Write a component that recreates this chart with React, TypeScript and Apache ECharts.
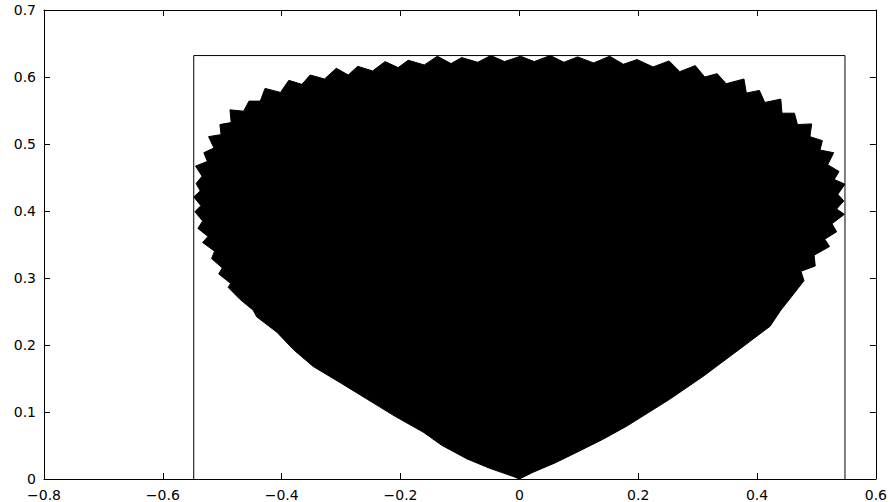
import React, { useEffect, useRef } from "react";
import * as echarts from "echarts";

// Edge of the filled region, anticlockwise from the origin:
// smooth lower flanks, ragged upper rim.
const edgeX = [
  0, -0.011, -0.05, -0.088, -0.13, -0.162, -0.21, -0.256, -0.3, -0.347, -0.38, -0.408,
  -0.442, -0.448, -0.47,
  -0.49, -0.486, -0.506, -0.5, -0.518, -0.513, -0.533, -0.524, -0.541, -0.533,
  -0.546, -0.536, -0.548, -0.537, -0.544, -0.534, -0.545, -0.525, -0.531, -0.514,
  -0.523, -0.502, -0.504, -0.485, -0.487, -0.464, -0.455, -0.436, -0.428, -0.402,
  -0.388, -0.366, -0.352, -0.328, -0.308, -0.288, -0.272, -0.247, -0.226, -0.204, -0.187,
  -0.16, -0.138, -0.115, -0.097, -0.07, -0.048, -0.025, 0.002, 0.025, 0.052, 0.075, 0.098,
  0.125, 0.152, 0.175, 0.198, 0.225, 0.252, 0.27, 0.296, 0.312, 0.333, 0.348, 0.378,
  0.382, 0.404, 0.413, 0.44, 0.442, 0.463, 0.468, 0.492, 0.489, 0.51, 0.506, 0.529,
  0.519, 0.538, 0.53, 0.548, 0.536, 0.546, 0.534, 0.547, 0.526, 0.534, 0.514, 0.522,
  0.496, 0.498, 0.474, 0.479, 0.458,
  0.44, 0.422, 0.371, 0.309, 0.253, 0.181, 0.14, 0.097, 0.06, 0.023, 0,
];
const edgeY = [
  0, 0.004, 0.016, 0.03, 0.05, 0.07, 0.094, 0.119, 0.143, 0.168, 0.193, 0.219,
  0.242, 0.252, 0.268,
  0.286, 0.292, 0.306, 0.315, 0.329, 0.34, 0.353, 0.362, 0.374, 0.385,
  0.399, 0.408, 0.421, 0.43, 0.441, 0.452, 0.467, 0.474, 0.487, 0.494,
  0.511, 0.514, 0.529, 0.532, 0.551, 0.549, 0.564, 0.564, 0.583, 0.577,
  0.595, 0.589, 0.603, 0.597, 0.613, 0.603, 0.616, 0.609, 0.623, 0.614, 0.625,
  0.618, 0.631, 0.62, 0.629, 0.622, 0.632, 0.623, 0.631, 0.623, 0.632, 0.622, 0.63,
  0.621, 0.631, 0.619, 0.626, 0.615, 0.624, 0.608, 0.617, 0.6, 0.605, 0.59, 0.597,
  0.576, 0.58, 0.562, 0.567, 0.546, 0.546, 0.529, 0.53, 0.511, 0.505, 0.491, 0.487,
  0.469, 0.459, 0.447, 0.44, 0.425, 0.415, 0.403, 0.395, 0.381, 0.369, 0.358, 0.347,
  0.334, 0.318, 0.31, 0.296, 0.272,
  0.252, 0.228, 0.194, 0.153, 0.119, 0.079, 0.059, 0.04, 0.024, 0.01, 0,
];

// Bounding box drawn around the region
const boxX = [-0.548, -0.548, 0.548, 0.548];
const boxY = [0, 0.632, 0.632, 0];

const xTicks = { min: -0.8, max: 0.6, interval: 0.2 };
const yTicks = { min: 0, max: 0.7, interval: 0.1 };

const fmt = (v: number) => {
  const s = String(Math.round(v * 10) / 10);
  return s.replace("-", "\u2212");
};

export default function App() {
  const ref = useRef<HTMLDivElement>(null);

  useEffect(() => {
    if (!ref.current) return;
    const chart = echarts.init(ref.current, undefined, { renderer: "svg" });
    const edge = edgeX.map((x, i) => [x, edgeY[i]]);
    const box = boxX.map((x, i) => [x, boxY[i]]);

    const font = { fontFamily: "DejaVu Sans", fontSize: 14, color: "#000" };
    const axisLine = { show: true, onZero: false, lineStyle: { color: "#000", width: 1 } };
    const tick = {
      show: true,
      inside: true,
      length: 6,
      lineStyle: { color: "#000", width: 1 },
    };

    chart.setOption({
      animation: false,
      backgroundColor: "#fff",
      grid: { left: 44, top: 10, width: 832, height: 470, containLabel: false },
      xAxis: [
        {
          type: "value",
          ...xTicks,
          position: "bottom",
          axisLine,
          axisTick: tick,
          splitLine: { show: false },
          axisLabel: { ...font, margin: 9, formatter: fmt },
        },
        {
          type: "value",
          ...xTicks,
          position: "top",
          axisLine,
          axisTick: tick,
          splitLine: { show: false },
          axisLabel: { show: false },
        },
      ],
      yAxis: [
        {
          type: "value",
          ...yTicks,
          position: "left",
          axisLine,
          axisTick: tick,
          splitLine: { show: false },
          axisLabel: { ...font, margin: 8, formatter: fmt },
        },
        {
          type: "value",
          ...yTicks,
          position: "right",
          axisLine,
          axisTick: tick,
          splitLine: { show: false },
          axisLabel: { show: false },
        },
      ],
      series: [
        {
          type: "custom",
          xAxisIndex: 0,
          yAxisIndex: 0,
          data: edge,
          renderItem: (params: any, api: any) => {
            if (params.dataIndex !== 0) return null;
            const pts = edge.map((p) => api.coord(p));
            return {
              type: "polygon",
              shape: { points: pts },
              style: { fill: "#000", stroke: "#000", lineWidth: 1, lineJoin: "miter" },
            };
          },
          silent: true,
        },
        {
          type: "line",
          xAxisIndex: 0,
          yAxisIndex: 0,
          data: box,
          showSymbol: false,
          lineStyle: { color: "#000", width: 1 },
          silent: true,
        },
      ],
    });
    return () => chart.dispose();
  }, []);

  return (
    <div
      ref={ref}
      style={{ position: "fixed", left: 0, top: 0, width: 890, height: 502 }}
    />
  );
}
